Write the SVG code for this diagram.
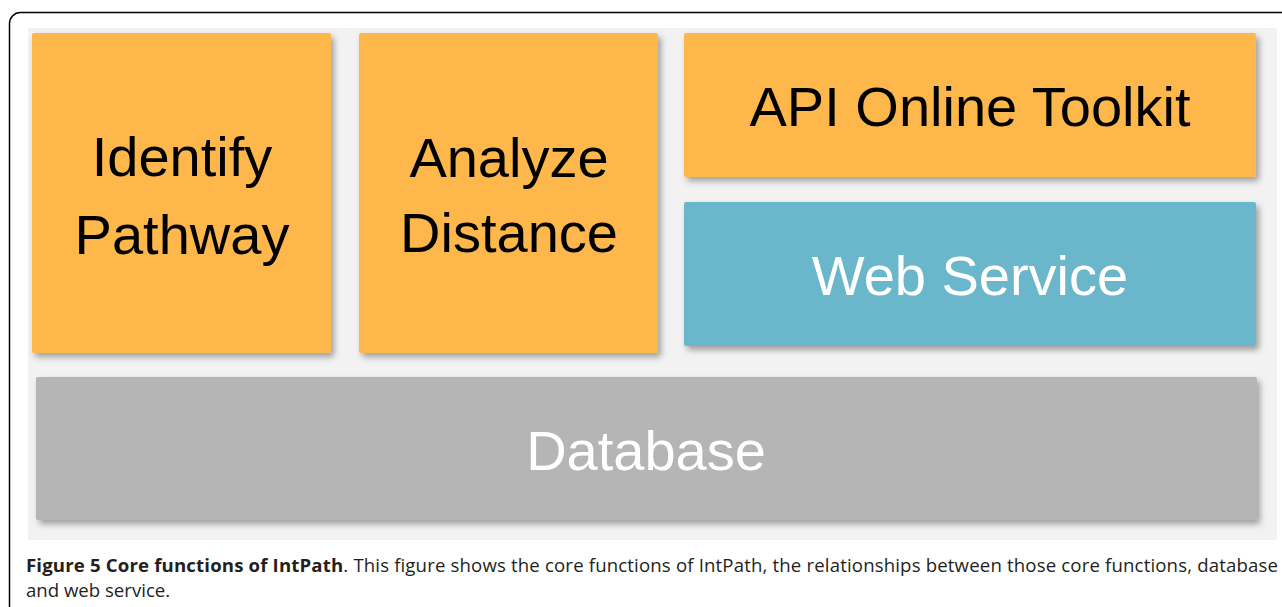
<svg xmlns="http://www.w3.org/2000/svg" width="1282" height="607" viewBox="0 0 1282 607">
  <style>
    .box { stroke: none; filter: url(#sh); }
    .orange { fill: #FDB74B; }
    .blue { fill: #6BB6CA; }
    .gray { fill: #B5B5B5; }
    .lbl { font-family: "Liberation Sans", Arial, sans-serif; font-size: 56px; text-anchor: middle; }
    .dark { fill: #000000; }
    .light { fill: #FFFFFF; }
    .cap { font-family: "Open Sans", "Liberation Sans", sans-serif; font-size: 18.6px; fill: #231F20; }
  </style>
  <defs>
    <filter id="sh" x="-5%" y="-10%" width="115%" height="130%">
      <feDropShadow dx="3" dy="4" stdDeviation="3" flood-color="#000000" flood-opacity="0.35"/>
    </filter>
  </defs>
  <rect x="0" y="0" width="1282" height="607" fill="#FFFFFF"/>
  <rect x="9.5" y="12.5" width="1300" height="640" rx="11" fill="none" stroke="#000000" stroke-width="1.5"/>
  <rect x="28" y="28" width="1249" height="512" fill="#F2F2F2"/>

  <g id="identify-pathway">
    <rect class="box orange" x="32" y="33" width="299" height="320" rx="2"/>
    <text class="lbl dark" x="182" y="176">Identify</text>
    <text class="lbl dark" x="182" y="254">Pathway</text>
  </g>
  <g id="analyze-distance">
    <rect class="box orange" x="359" y="33" width="299" height="320" rx="2"/>
    <text class="lbl dark" x="509" y="177">Analyze</text>
    <text class="lbl dark" x="509" y="252">Distance</text>
  </g>
  <g id="api-online-toolkit">
    <rect class="box orange" x="684" y="33" width="572" height="144" rx="2"/>
    <text class="lbl dark" x="970" y="126">API Online Toolkit</text>
  </g>
  <g id="web-service">
    <rect class="box blue" x="684" y="202" width="572" height="144" rx="2"/>
    <text class="lbl light" x="970" y="295">Web Service</text>
  </g>
  <g id="database">
    <rect class="box gray" x="36" y="377" width="1221" height="143" rx="2"/>
    <text class="lbl light" x="646" y="470">Database</text>
  </g>
  <g id="connectors"></g>

  <text class="cap" x="26" y="572" textLength="1252" lengthAdjust="spacing"><tspan font-weight="bold">Figure 5 Core functions of IntPath</tspan>. This figure shows the core functions of IntPath, the relationships between those core functions, database</text>
  <text class="cap" x="26" y="597">and web service.</text>
</svg>
